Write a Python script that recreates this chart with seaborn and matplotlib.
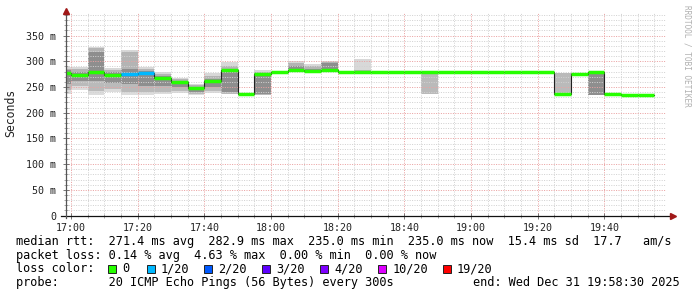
import numpy as np
import pandas as pd
import matplotlib
matplotlib.use("Agg")
import matplotlib.pyplot as plt
import seaborn as sns
from matplotlib.patches import Rectangle

# ---------------- data ----------------
bin_start = ["16:55", "17:00", "17:05", "17:10", "17:15", "17:20", "17:25", "17:30",
             "17:35", "17:40", "17:45", "17:50", "17:55", "18:00", "18:05", "18:10",
             "18:15", "18:20", "18:25", "18:30", "18:35", "18:40", "18:45", "18:50",
             "18:55", "19:00", "19:05", "19:10", "19:15", "19:20", "19:25", "19:30",
             "19:35", "19:40", "19:45", "19:50"]
median_ms = [278, 273, 279, 273, 275, 277, 267, 259, 248, 261, 283, 237, 276, 279, 283, 282,
             283, 279, 279, 279, 279, 279, 279, 279, 279, 279, 279, 279, 279, 279, 237, 276,
             279, 236, 235, 235]
loss_pings = [0, 0, 0, 0, 1, 1, 0, 0, 0, 0, 0, 0, 0, 0, 0, 0,
              0, 0, 0, 0, 0, 0, 0, 0, 0, 0, 0, 0, 0, 0, 0, 0,
              0, 0, 0, 0]
ping_min = [237, 245, 234, 240, 234, 234, 236, 238, 234, 239, 236, 237, 234, 279, 280, 281,
            282, 279, 279, 279, 279, 279, 236, 279, 279, 279, 279, 279, 279, 279, 237, 276,
            235, 235, 235, 235]
ping_p10 = [245, 252, 242, 247, 240, 240, 240, 242, 236, 243, 237, 237, 235, 279, 282, 282,
            283, 279, 279, 279, 279, 279, 236, 279, 279, 279, 279, 279, 279, 279, 237, 276,
            235, 235, 235, 235]
ping_p25 = [255, 262, 262, 258, 255, 252, 252, 250, 240, 250, 240, 237, 236, 279, 283, 282,
            283, 279, 279, 279, 279, 279, 277, 279, 279, 279, 279, 279, 279, 279, 277, 276,
            235, 235, 235, 235]
ping_p75 = [283, 280, 318, 279, 285, 281, 272, 262, 250, 266, 286, 237, 277, 279, 290, 286,
            297, 279, 281, 279, 279, 279, 279, 279, 279, 279, 279, 279, 279, 279, 278, 277,
            278, 236, 235, 235]
ping_p90 = [286, 285, 325, 284, 318, 285, 276, 265, 253, 272, 290, 237, 280, 279, 297, 290,
            298, 279, 283, 279, 279, 279, 279, 279, 279, 279, 279, 279, 279, 279, 278, 278,
            279, 237, 235, 235]
ping_max = [289, 288, 328, 287, 322, 288, 279, 268, 256, 278, 298, 237, 284, 279, 301, 294,
            300, 279, 304, 279, 279, 279, 279, 279, 279, 279, 279, 279, 279, 279, 278, 278,
            279, 238, 235, 235]

window = ["16:58:30", "19:58:30"]
x_tick_labels = ["17:00", "17:20", "17:40", "18:00", "18:20", "18:40", "19:00", "19:20", "19:40"]
y_ticks = [0, 50, 100, 150, 200, 250, 300, 350]
y_tick_labels = ["0", "50 m", "100 m", "150 m", "200 m", "250 m", "300 m", "350 m"]
loss_labels = ["0", "1/20", "2/20", "3/20", "4/20", "10/20", "19/20"]
loss_thresholds = [0, 1, 2, 3, 4, 10, 19]
loss_colors = ["#26ff00", "#00b8ff", "#0059ff", "#5e00ff", "#7e00ff", "#dd00ff", "#ff0000"]
stats_line1 = "median rtt:  271.4 ms avg  282.9 ms max  235.0 ms min  235.0 ms now  15.4 ms sd  17.7   am/s"
stats_line2 = "packet loss: 0.14 % avg  4.63 % max  0.00 % min  0.00 % now"
probe_line = "probe:       20 ICMP Echo Pings (56 Bytes) every 300s"
end_line = "end: Wed Dec 31 19:58:30 2025"
y_label = "Seconds"
watermark = "RRDTOOL / TOBI OETIKER"


def to_min(s):
    parts = [float(p) for p in s.split(":")]
    return parts[0] * 60 + parts[1] + (parts[2] / 60 if len(parts) > 2 else 0)


starts = np.array([to_min(s) for s in bin_start])
step = starts[1] - starts[0]
edges = np.append(starts, starts[-1] + step)


def ext(a):
    a = np.asarray(a, dtype=float)
    return np.append(a, a[-1])


def loss_color(n):
    idx = 0
    for i, th in enumerate(loss_thresholds):
        if n >= th:
            idx = i
    return loss_colors[idx]


MONO = "DejaVu Sans Mono"
W, H = 697, 297
fig = plt.figure(figsize=(W / 100, H / 100), dpi=100)
fig.patch.set_facecolor("white")
ax = fig.add_axes([66 / W, (H - 215.5) / H, 600 / W, 203 / H])
t0, t1 = to_min(window[0]), to_min(window[1])

# smoke
bands = [(ping_min, ping_p10, "#dcdcdc"), (ping_p10, ping_p25, "#bababa"),
         (ping_p25, ping_p75, "#8e8e8e"), (ping_p75, ping_p90, "#b4b4b4"),
         (ping_p90, ping_max, "#d8d8d8")]
for lo, hi, c in bands:
    ax.fill_between(edges, ext(lo), ext(hi), step="post", color=c, lw=0, zorder=1)

# median line (dark) via seaborn
df = pd.DataFrame({"t": edges, "median": ext(median_ms)})
sns.lineplot(data=df, x="t", y="median", drawstyle="steps-post", color="#202020",
             linewidth=0.8, ax=ax, legend=False, zorder=3)

# loss-coloured median bars
ax.hlines(median_ms, starts, starts + step, colors=[loss_color(n) for n in loss_pings],
          linewidth=2.5, zorder=4)

ax.set_xlim(t0, t1)
ax.set_ylim(0, 395)

# ticks & grid
major_x = [to_min(s) for s in x_tick_labels]
ax.set_xticks(major_x)
ax.set_xticklabels(x_tick_labels, family=MONO, fontsize=7.2, color="#222222")
ax.set_xticks(np.arange(to_min("17:00"), t1, 5), minor=True)
ax.set_yticks(y_ticks)
ax.set_yticklabels(y_tick_labels, family=MONO, fontsize=7.2, color="#222222")
ax.set_yticks(np.arange(0, 395, 10), minor=True)
ax.tick_params(which="major", direction="inout", length=5, width=0.7, color="#777777")
ax.tick_params(which="minor", direction="inout", length=3, width=0.6, color="#999999")
ax.tick_params(axis="y", which="major", pad=4.5)
ax.tick_params(axis="x", which="major", pad=3)
ax.set_axisbelow(False)
ax.grid(which="minor", color="#d2d2d2", linestyle=(0, (1, 1.4)), linewidth=0.72)
ax.grid(which="major", color="#eaa2a2", linestyle=(0, (1, 1.4)), linewidth=0.72)
for t in (ax.xaxis.get_major_ticks() + ax.yaxis.get_major_ticks()
          + ax.xaxis.get_minor_ticks() + ax.yaxis.get_minor_ticks()):
    t.gridline.set_zorder(2)
ax.set_xlabel("")
ax.set_ylabel("")
for sp in ax.spines.values():
    sp.set_visible(False)

# axis lines with arrows
ax.plot([-5 / 600, 1 + 5 / 600], [0, 0], transform=ax.transAxes, color="#111111",
        lw=0.9, clip_on=False, zorder=5)
ax.plot([0, 0], [-2 / 203, 1], transform=ax.transAxes, color="#555555",
        lw=0.9, clip_on=False, zorder=5)
ax.plot([1 + 7 / 600], [0], marker=">", ms=4.5, color="#a01818", transform=ax.transAxes,
        clip_on=False, zorder=6)
ax.plot([0], [1 + 1.5 / 203], marker="^", ms=4.5, color="#a01818", transform=ax.transAxes,
        clip_on=False, zorder=6)

# labels
fig.text(11 / W, 1 - 113 / H, y_label, rotation=90, family=MONO, fontsize=8.3,
         va="center", ha="center", color="#222222")
fig.text(687 / W, 1 - 5 / H, watermark, rotation=-90, family=MONO, fontsize=5.6,
         va="top", ha="center", color="#b0b0b0")

fs = 8.6
fig.text(16 / W, 1 - 241.5 / H, stats_line1, family=MONO, fontsize=fs, va="center")
fig.text(16 / W, 1 - 255.3 / H, stats_line2, family=MONO, fontsize=fs, va="center")
fig.text(16 / W, 1 - 269 / H, "loss color:", family=MONO, fontsize=fs, va="center")
box_x = [108.3, 146.7, 204, 261.7, 319.7, 378.3, 442.7]
for bx, lab, c in zip(box_x, loss_labels, loss_colors):
    fig.patches.append(Rectangle((bx / W, 1 - 273 / H), 8 / W, 8 / H, transform=fig.transFigure,
                                 facecolor=c, edgecolor="#222222", lw=0.7))
    fig.text((bx + 14.3) / W, 1 - 269 / H, lab, family=MONO, fontsize=fs, va="center")
fig.text(16 / W, 1 - 282.8 / H, probe_line, family=MONO, fontsize=fs, va="center")
fig.text(680 / W, 1 - 282.8 / H, end_line, family=MONO, fontsize=fs, va="center", ha="right")

fig.savefig("out.png", dpi=100)
